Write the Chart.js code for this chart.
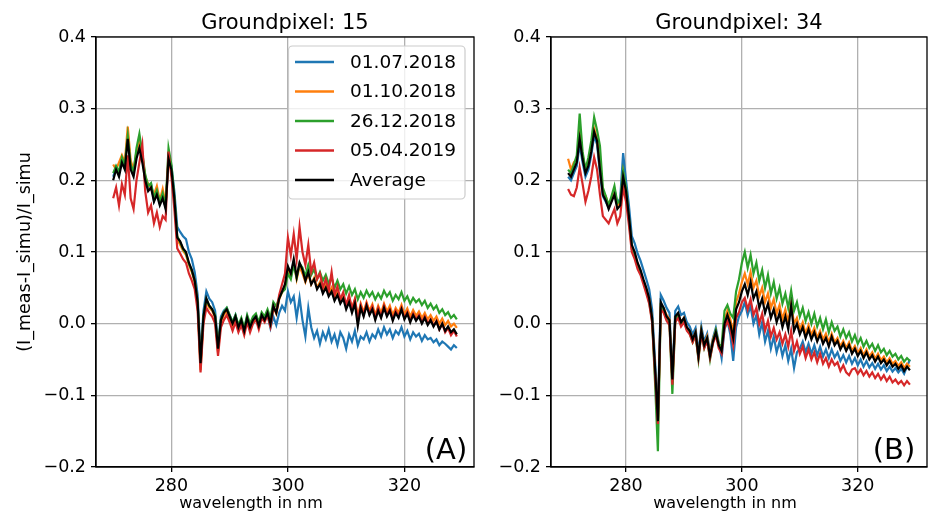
<!DOCTYPE html>
<html>
<head>
<meta charset="utf-8">
<script src="https://cdn.jsdelivr.net/npm/chart.js@4.4.1/dist/chart.umd.min.js"></script>
<style>
  body { margin: 0; background: #fff; width: 932px; height: 512px; overflow: hidden; position: relative; }
  .box { position: absolute; top: 0; height: 512px; }
</style>
</head>
<body>
<div class="box" style="left:0;width:480px"><canvas id="c1" width="480" height="512"></canvas></div>
<div class="box" style="left:480px;width:452px"><canvas id="c2" width="452" height="512"></canvas></div>
<script>
// wavelength grid (nm)
const wavelengths = [
  270,270.5,271,271.5,272,272.5,273,273.5,274,274.5,
  275,275.5,276,276.5,277,277.5,278,278.5,279,279.5,
  280,280.5,281,281.5,282,282.5,283,283.5,284,284.5,
  285,285.5,286,286.5,287,287.5,288,288.5,289,289.5,
  290,290.5,291,291.5,292,292.5,293,293.5,294,294.5,
  295,295.5,296,296.5,297,297.5,298,298.5,299,299.5,
  300,300.5,301,301.5,302,302.5,303,303.5,304,304.5,
  305,305.5,306,306.5,307,307.5,308,308.5,309,309.5,
  310,310.5,311,311.5,312,312.5,313,313.5,314,314.5,
  315,315.5,316,316.5,317,317.5,318,318.5,319,319.5,
  320,320.5,321,321.5,322,322.5,323,323.5,324,324.5,
  325,325.5,326,326.5,327,327.5,328,328.5,329
];

const seriesNames = ['01.07.2018', '01.10.2018', '26.12.2018', '05.04.2019', 'Average'];
const seriesColors = ['#1f77b4', '#ff7f0e', '#2ca02c', '#d62728', '#000000'];
const xTicks = [280, 300, 320];

// Groundpixel 15
const gp15_0107 = [
  0.205,0.218,0.210,0.228,0.220,0.265,0.220,0.210,0.235,0.250,
  0.230,0.205,0.190,0.195,0.172,0.185,0.168,0.178,0.162,0.232,
  0.220,0.185,0.135,0.128,0.122,0.118,0.100,0.090,0.072,0.040,
  -0.045,0.018,0.045,0.035,0.030,0.018,-0.028,0.010,0.018,0.022,
  0.012,0.002,0.012,-0.004,0.006,-0.008,0.010,-0.004,0.006,0.012,
  -0.002,0.014,0.006,0.012,-0.006,0.010,-0.002,0.015,0.025,0.018,
  0.045,0.030,0.038,0.008,0.036,0.005,-0.018,0.022,-0.005,-0.020,
  -0.010,-0.028,-0.012,-0.022,-0.008,-0.025,-0.015,-0.030,-0.012,-0.020,
  -0.035,-0.015,-0.025,-0.010,-0.030,-0.018,-0.022,-0.012,-0.025,-0.015,
  -0.020,-0.008,-0.018,-0.005,-0.015,-0.008,-0.020,-0.010,-0.015,-0.005,
  -0.018,-0.010,-0.022,-0.012,-0.018,-0.014,-0.024,-0.016,-0.022,-0.020,
  -0.026,-0.022,-0.030,-0.025,-0.028,-0.032,-0.036,-0.030,-0.034
];
const gp15_0110 = [
  0.222,0.215,0.225,0.235,0.225,0.275,0.228,0.215,0.240,0.255,
  0.235,0.205,0.195,0.190,0.180,0.192,0.172,0.188,0.168,0.228,
  0.212,0.170,0.118,0.110,0.102,0.096,0.082,0.072,0.058,0.028,
  -0.065,0.008,0.030,0.022,0.018,0.008,-0.040,0.002,0.012,0.018,
  0.008,-0.002,0.008,-0.008,0.003,-0.012,0.006,-0.008,0.004,0.008,
  -0.005,0.010,0.004,0.014,-0.002,0.024,0.014,0.034,0.044,0.052,
  0.078,0.066,0.086,0.062,0.080,0.070,0.058,0.070,0.055,0.064,
  0.050,0.058,0.046,0.054,0.042,0.050,0.036,0.045,0.034,0.040,
  0.026,0.036,0.022,0.034,0.010,0.028,0.016,0.030,0.018,0.027,
  0.012,0.025,0.015,0.028,0.017,0.025,0.012,0.022,0.015,0.026,
  0.013,0.021,0.010,0.019,0.011,0.017,0.008,0.015,0.006,0.012,
  0.004,0.010,0.000,0.007,-0.002,0.004,-0.004,0.000,-0.006
];
const gp15_2612 = [
  0.210,0.220,0.212,0.232,0.222,0.262,0.222,0.212,0.245,0.265,
  0.238,0.208,0.192,0.196,0.176,0.186,0.170,0.182,0.165,0.245,
  0.222,0.178,0.122,0.114,0.104,0.098,0.084,0.074,0.060,0.030,
  -0.058,0.010,0.034,0.025,0.020,0.012,-0.034,0.006,0.016,0.022,
  0.012,0.002,0.012,-0.002,0.008,-0.006,0.012,0.000,0.010,0.014,
  0.002,0.016,0.010,0.020,0.008,0.030,0.024,0.036,0.044,0.048,
  0.070,0.062,0.082,0.064,0.084,0.078,0.066,0.082,0.068,0.076,
  0.062,0.072,0.060,0.068,0.056,0.064,0.050,0.060,0.048,0.055,
  0.042,0.052,0.040,0.048,0.034,0.044,0.036,0.046,0.038,0.044,
  0.034,0.042,0.035,0.046,0.038,0.044,0.032,0.040,0.034,0.044,
  0.032,0.038,0.028,0.036,0.030,0.034,0.026,0.032,0.022,0.028,
  0.020,0.025,0.015,0.020,0.012,0.016,0.008,0.012,0.006
];
const gp15_0504 = [
  0.175,0.190,0.165,0.195,0.180,0.235,0.175,0.160,0.200,0.225,
  0.250,0.185,0.155,0.165,0.140,0.155,0.135,0.150,0.145,0.240,
  0.205,0.160,0.105,0.098,0.090,0.085,0.070,0.060,0.048,0.018,
  -0.068,0.000,0.022,0.015,0.010,0.000,-0.045,-0.005,0.005,0.012,
  0.002,-0.010,0.002,-0.012,-0.002,-0.016,0.002,-0.012,0.000,0.006,
  -0.008,0.008,0.002,0.012,-0.004,0.022,0.016,0.040,0.055,0.070,
  0.120,0.095,0.125,0.090,0.135,0.100,0.082,0.110,0.072,0.085,
  0.062,0.070,0.050,0.062,0.046,0.072,0.040,0.052,0.034,0.044,
  0.026,0.040,0.020,0.034,0.006,0.026,0.012,0.028,0.014,0.024,
  0.008,0.022,0.010,0.025,0.012,0.020,0.006,0.018,0.010,0.022,
  0.008,0.016,0.004,0.014,0.006,0.012,0.002,0.010,0.000,0.006,
  -0.003,0.004,-0.008,0.000,-0.012,-0.006,-0.016,-0.010,-0.018
];
const gp15_avg = [
  0.200,0.215,0.205,0.225,0.215,0.258,0.215,0.205,0.230,0.245,
  0.225,0.200,0.185,0.190,0.170,0.180,0.165,0.175,0.160,0.230,
  0.215,0.175,0.120,0.115,0.105,0.100,0.085,0.075,0.060,0.030,
  -0.055,0.010,0.035,0.025,0.020,0.010,-0.035,0.005,0.015,0.020,
  0.010,0.000,0.010,-0.005,0.005,-0.010,0.008,-0.005,0.005,0.010,
  -0.003,0.012,0.005,0.015,0.000,0.025,0.015,0.035,0.045,0.055,
  0.080,0.070,0.090,0.065,0.085,0.075,0.060,0.072,0.055,0.062,
  0.048,0.055,0.042,0.050,0.038,0.045,0.032,0.040,0.028,0.035,
  0.020,0.030,0.015,0.028,-0.003,0.022,0.010,0.025,0.012,0.020,
  0.005,0.018,0.008,0.022,0.010,0.018,0.004,0.015,0.008,0.020,
  0.006,0.014,0.002,0.012,0.004,0.010,0.000,0.008,-0.002,0.005,
  -0.004,0.003,-0.008,0.000,-0.010,-0.004,-0.012,-0.008,-0.015
];

// Groundpixel 34
const gp34_0107 = [
  0.205,0.200,0.210,0.220,0.250,0.225,0.205,0.215,0.235,0.262,
  0.250,0.210,0.178,0.170,0.162,0.175,0.188,0.168,0.175,0.238,
  0.200,0.165,0.122,0.112,0.098,0.088,0.075,0.062,0.048,0.020,
  -0.050,-0.125,0.040,0.032,0.022,0.015,-0.070,0.018,0.024,0.012,
  0.015,0.002,-0.004,-0.015,-0.006,-0.040,-0.004,-0.025,-0.014,-0.040,
  -0.020,-0.006,-0.026,-0.048,-0.008,0.005,-0.015,-0.052,-0.005,0.010,
  0.018,0.030,0.012,0.025,0.000,0.012,-0.015,0.002,-0.025,-0.010,
  -0.035,-0.018,-0.040,-0.025,-0.045,-0.030,-0.052,-0.035,-0.062,-0.040,
  -0.035,-0.025,-0.040,-0.028,-0.042,-0.030,-0.044,-0.032,-0.046,-0.036,
  -0.048,-0.036,-0.047,-0.040,-0.052,-0.044,-0.054,-0.045,-0.056,-0.048,
  -0.058,-0.050,-0.060,-0.052,-0.061,-0.055,-0.063,-0.056,-0.064,-0.058,
  -0.066,-0.060,-0.067,-0.062,-0.068,-0.063,-0.070,-0.060,-0.050
];
const gp34_0110 = [
  0.230,0.215,0.225,0.230,0.265,0.235,0.215,0.225,0.245,0.272,
  0.258,0.220,0.185,0.178,0.165,0.175,0.182,0.165,0.168,0.210,
  0.182,0.145,0.104,0.095,0.080,0.072,0.060,0.048,0.034,0.006,
  -0.065,-0.140,0.026,0.022,0.012,0.006,-0.080,0.008,0.014,0.002,
  0.008,-0.006,-0.010,-0.022,-0.012,-0.046,-0.010,-0.030,-0.018,-0.044,
  -0.022,-0.010,-0.028,-0.036,0.004,0.018,0.006,-0.012,0.030,0.042,
  0.058,0.070,0.055,0.072,0.050,0.060,0.038,0.050,0.030,0.042,
  0.022,0.034,0.014,0.026,0.006,0.020,0.002,0.028,0.000,0.008,
  -0.008,0.002,-0.014,-0.002,-0.016,-0.006,-0.020,-0.010,-0.022,-0.014,
  -0.026,-0.014,-0.026,-0.020,-0.032,-0.024,-0.034,-0.026,-0.038,-0.031,
  -0.041,-0.034,-0.044,-0.036,-0.046,-0.040,-0.049,-0.042,-0.051,-0.046,
  -0.054,-0.048,-0.056,-0.052,-0.059,-0.054,-0.062,-0.056,-0.060
];
const gp34_2612 = [
  0.215,0.210,0.222,0.235,0.293,0.240,0.215,0.232,0.255,0.288,
  0.270,0.248,0.190,0.178,0.165,0.178,0.192,0.168,0.172,0.213,
  0.190,0.148,0.106,0.096,0.082,0.072,0.058,0.046,0.030,0.004,
  -0.080,-0.178,0.024,0.018,0.006,0.000,-0.098,0.004,0.012,-0.002,
  0.004,-0.008,-0.014,-0.026,-0.016,-0.050,-0.012,-0.034,-0.022,-0.050,
  -0.026,-0.010,-0.030,-0.030,0.018,0.026,0.014,0.008,0.045,0.062,
  0.085,0.100,0.078,0.096,0.070,0.085,0.060,0.075,0.050,0.068,
  0.042,0.058,0.035,0.050,0.028,0.042,0.022,0.046,0.018,0.030,
  0.010,0.022,0.004,0.016,0.000,0.014,-0.004,0.008,-0.008,0.006,
  -0.012,0.002,-0.010,-0.004,-0.018,-0.008,-0.020,-0.012,-0.025,-0.016,
  -0.028,-0.020,-0.032,-0.024,-0.034,-0.028,-0.038,-0.030,-0.040,-0.035,
  -0.044,-0.038,-0.046,-0.042,-0.050,-0.045,-0.053,-0.048,-0.052
];
const gp34_0504 = [
  0.188,0.180,0.178,0.190,0.218,0.195,0.170,0.185,0.205,0.232,
  0.215,0.180,0.150,0.145,0.140,0.150,0.160,0.140,0.150,0.190,
  0.170,0.138,0.100,0.090,0.076,0.068,0.055,0.042,0.028,0.002,
  -0.070,-0.140,0.020,0.015,0.004,-0.002,-0.085,0.002,0.008,-0.004,
  0.002,-0.010,-0.015,-0.026,-0.016,-0.048,-0.014,-0.034,-0.024,-0.048,
  -0.028,-0.016,-0.034,-0.042,-0.006,0.004,-0.008,-0.030,0.008,0.016,
  0.030,0.036,0.020,0.034,0.012,0.022,0.000,0.014,-0.010,0.004,
  -0.018,-0.006,-0.022,-0.012,-0.028,-0.015,-0.032,-0.010,-0.038,-0.025,
  -0.042,-0.032,-0.048,-0.036,-0.050,-0.040,-0.054,-0.042,-0.056,-0.048,
  -0.060,-0.050,-0.058,-0.054,-0.066,-0.058,-0.068,-0.072,-0.064,-0.062,
  -0.070,-0.064,-0.072,-0.066,-0.074,-0.068,-0.076,-0.070,-0.078,-0.072,
  -0.080,-0.074,-0.082,-0.078,-0.084,-0.080,-0.086,-0.080,-0.085
];
const gp34_avg = [
  0.210,0.205,0.215,0.225,0.258,0.230,0.210,0.220,0.240,0.268,
  0.255,0.215,0.180,0.172,0.160,0.170,0.180,0.160,0.165,0.205,
  0.185,0.150,0.110,0.100,0.085,0.075,0.062,0.050,0.035,0.008,
  -0.060,-0.136,0.030,0.022,0.010,0.005,-0.078,0.010,0.015,0.002,
  0.008,-0.005,-0.010,-0.022,-0.012,-0.045,-0.010,-0.030,-0.020,-0.045,
  -0.025,-0.012,-0.030,-0.038,0.000,0.012,0.000,-0.020,0.020,0.030,
  0.045,0.055,0.040,0.058,0.035,0.045,0.022,0.035,0.015,0.028,
  0.008,0.020,0.002,0.015,-0.005,0.010,-0.008,0.025,-0.010,0.000,
  -0.015,-0.005,-0.020,-0.008,-0.022,-0.012,-0.025,-0.015,-0.028,-0.020,
  -0.032,-0.018,-0.030,-0.024,-0.036,-0.028,-0.038,-0.030,-0.042,-0.035,
  -0.045,-0.038,-0.048,-0.040,-0.050,-0.044,-0.053,-0.046,-0.055,-0.050,
  -0.058,-0.052,-0.060,-0.056,-0.063,-0.058,-0.066,-0.060,-0.065
];

const FONT = "'DejaVu Sans', sans-serif";

// frame, titles, panel tag and (optionally) the legend
const decor = {
  id: 'decor',
  afterDraw(chart, args, o) {
    const ctx = chart.ctx;
    const a = chart.chartArea;
    ctx.save();
    ctx.strokeStyle = '#000';
    ctx.lineWidth = 1.3;
    ctx.strokeRect(a.left, a.top, a.right - a.left, a.bottom - a.top);

    ctx.fillStyle = '#000';
    ctx.textAlign = 'center';
    ctx.textBaseline = 'alphabetic';
    ctx.font = '21px ' + FONT;
    ctx.fillText(o.title, (a.left + a.right) / 2, 29);
    ctx.font = '16px ' + FONT;
    ctx.fillText('wavelength in nm', o.xTitleX, 508);
    ctx.font = '29px ' + FONT;
    ctx.fillText(o.tag, o.tagX, 459);

    if (o.yTitle) {
      ctx.save();
      ctx.translate(25, (a.top + a.bottom) / 2);
      ctx.rotate(-Math.PI / 2);
      ctx.font = '17.5px ' + FONT;
      ctx.textBaseline = 'middle';
      ctx.fillText(o.yTitle, 0, 0);
      ctx.restore();
    }

    if (o.legend) {
      const x0 = 288.5, y0 = 46, w = 176.5, h = 153, r = 4;
      ctx.beginPath();
      ctx.moveTo(x0 + r, y0);
      ctx.arcTo(x0 + w, y0, x0 + w, y0 + h, r);
      ctx.arcTo(x0 + w, y0 + h, x0, y0 + h, r);
      ctx.arcTo(x0, y0 + h, x0, y0, r);
      ctx.arcTo(x0, y0, x0 + w, y0, r);
      ctx.closePath();
      ctx.fillStyle = 'rgba(255,255,255,0.8)';
      ctx.fill();
      ctx.strokeStyle = '#cccccc';
      ctx.lineWidth = 1.2;
      ctx.stroke();

      ctx.font = '18.5px ' + FONT;
      ctx.textAlign = 'left';
      ctx.textBaseline = 'middle';
      seriesNames.forEach((name, i) => {
        const y = 62 + i * 29.5;
        ctx.strokeStyle = seriesColors[i];
        ctx.lineWidth = 2.4;
        ctx.beginPath();
        ctx.moveTo(295, y);
        ctx.lineTo(334, y);
        ctx.stroke();
        ctx.fillStyle = '#000';
        ctx.fillText(name, 350, y + 1);
      });
    }
    ctx.restore();
  }
};

function makeChart(id, series, yWidth, padRight, deco) {
  const datasets = series.map((vals, i) => ({
    label: seriesNames[i],
    data: wavelengths.map((x, j) => ({ x: x, y: vals[j] })),
    borderColor: seriesColors[i],
    borderWidth: 2.2,
    pointRadius: 0,
    tension: 0,
    fill: false,
    order: series.length - i,
  }));
  return new Chart(document.getElementById(id), {
    type: 'line',
    data: { datasets: datasets },
    plugins: [decor],
    options: {
      responsive: false,
      animation: false,
      layout: { padding: { left: 0, right: padRight, top: 37, bottom: 0 } },
      plugins: {
        legend: { display: false },
        tooltip: { enabled: false },
        decor: deco,
      },
      scales: {
        x: {
          type: 'linear',
          min: 267.05,
          max: 331.95,
          afterBuildTicks: (axis) => { axis.ticks = xTicks.map(v => ({ value: v })); },
          afterFit: (s) => { s.height = 45; },
          ticks: { color: '#000', font: { family: FONT, size: 17.5 }, padding: 4, maxRotation: 0 },
          grid: { color: '#b0b0b0', lineWidth: 1.3, tickColor: '#000', tickLength: 5 },
          border: { color: '#000', width: 1.3 },
        },
        y: {
          min: -0.2,
          max: 0.4,
          afterFit: (s) => { s.width = yWidth; },
          ticks: {
            stepSize: 0.1,
            color: '#000',
            font: { family: FONT, size: 17.5 },
            padding: 5,
            callback: (v) => (v < -1e-9 ? '\u2212' : '') + Math.abs(v).toFixed(1),
          },
          grid: { color: '#b0b0b0', lineWidth: 1.3, tickColor: '#000', tickLength: 5 },
          border: { color: '#000', width: 1.3 },
        },
      },
    },
  });
}

makeChart('c1', [gp15_0107, gp15_0110, gp15_2612, gp15_0504, gp15_avg], 96, 6, {
  title: 'Groundpixel: 15', tag: '(A)', tagX: 446, xTitleX: 251,
  yTitle: '(I_meas-I_simu)/I_simu', legend: true,
});
makeChart('c2', [gp34_0107, gp34_0110, gp34_2612, gp34_0504, gp34_avg], 71, 5, {
  title: 'Groundpixel: 34', tag: '(B)', tagX: 414, xTitleX: 245,
  yTitle: null, legend: false,
});
</script>
</body>
</html>
